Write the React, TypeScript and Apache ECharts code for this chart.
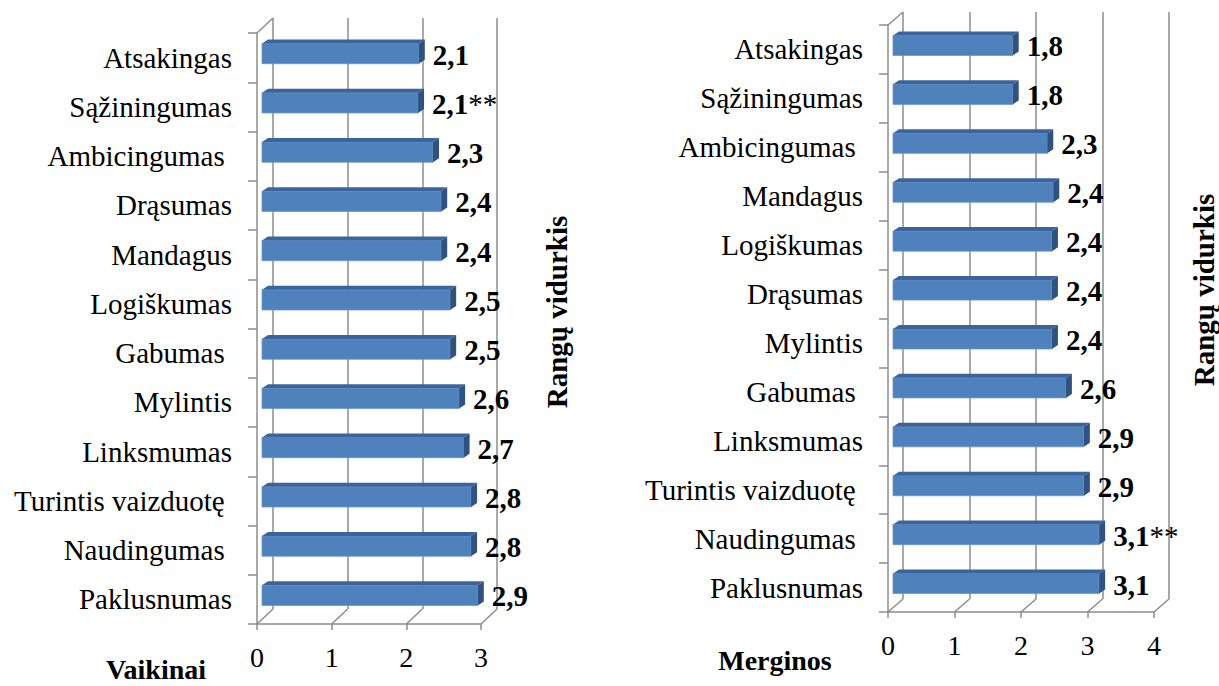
import { useEffect, useRef } from "react";
import * as echarts from "echarts";

// ---- Data ----
const boysCategories = [
  "Atsakingas",
  "Sąžiningumas",
  "Ambicingumas ",
  "Drąsumas",
  "Mandagus",
  "Logiškumas",
  "Gabumas ",
  "Mylintis",
  "Linksmumas",
  "Turintis vaizduotę ",
  "Naudingumas ",
  "Paklusnumas",
];
const boysValues = [2.1, 2.09, 2.29, 2.4, 2.4, 2.52, 2.52, 2.64, 2.7, 2.8, 2.8, 2.89];
const boysMarks = ["", "**", "", "", "", "", "", "", "", "", "", ""];
const boysTicks = [0, 1, 2, 3];

const girlsCategories = [
  "Atsakingas",
  "Sąžiningumas",
  "Ambicingumas ",
  "Mandagus",
  "Logiškumas",
  "Drąsumas",
  "Mylintis",
  "Gabumas ",
  "Linksmumas",
  "Turintis vaizduotę ",
  "Naudingumas ",
  "Paklusnumas",
];
const girlsValues = [1.8, 1.8, 2.32, 2.41, 2.39, 2.39, 2.39, 2.6, 2.87, 2.87, 3.1, 3.1];
const girlsMarks = ["", "", "", "", "", "", "", "", "", "", "**", ""];
const girlsTicks = [0, 1, 2, 3, 4];

const axisTitle = "Rangų vidurkis";
const boysTitle = "Vaikinai";
const girlsTitle = "Merginos";

// ---- Styles ----
const FONT = '"Liberation Serif", "Times New Roman", serif';
const GRID_COLOR = "#8c8c8c";
const FRONT = "#4f81bd";
const TOP = "#3b649d";
const SIDE = "#2f527f";

type Layout = {
  left: number;
  top: number;
  width: number;
  height: number;
  dx: number;
  dy: number;
  max: number;
};

const boysLayout: Layout = { left: 257, top: 33, width: 224, height: 591, dx: 16, dy: -15, max: 3 };
const girlsLayout: Layout = { left: 888, top: 25, width: 266, height: 587, dx: 15, dy: -13, max: 4 };

function fmt(v: number) {
  return v.toFixed(1).replace(".", ",");
}

function buildChart(
  idx: number,
  layout: Layout,
  categories: string[],
  values: number[],
  marks: string[],
  ticks: number[]
) {
  const fIdx = idx * 2;
  const bIdx = idx * 2 + 1;
  const grids = [
    { left: layout.left, top: layout.top, width: layout.width, height: layout.height },
    {
      left: layout.left + layout.dx,
      top: layout.top + layout.dy,
      width: layout.width,
      height: layout.height,
    },
  ];
  const xAxes = [
    {
      type: "value",
      gridIndex: fIdx,
      min: 0,
      max: layout.max,
      interval: 1,
      axisLine: { show: true, lineStyle: { color: GRID_COLOR, width: 1.5 } },
      axisTick: { show: true, length: 6, lineStyle: { color: GRID_COLOR, width: 1.5 } },
      splitLine: { show: false },
      axisLabel: { fontFamily: FONT, fontSize: 28, color: "#000", margin: 19 },
    },
    {
      type: "value",
      gridIndex: bIdx,
      min: 0,
      max: layout.max,
      interval: 1,
      axisLine: { show: false },
      axisTick: { show: false },
      axisLabel: { show: false },
      splitLine: { show: true, lineStyle: { color: GRID_COLOR, width: 1.5 } },
    },
  ];
  const yAxes = [
    {
      type: "category",
      gridIndex: fIdx,
      data: categories,
      inverse: true,
      axisLine: { show: true, lineStyle: { color: GRID_COLOR, width: 1.5 } },
      axisTick: { show: true, length: 9, lineStyle: { color: GRID_COLOR, width: 1.5 } },
      axisLabel: { fontFamily: FONT, fontSize: 29, color: "#000", margin: 25 },
      splitLine: { show: false },
    },
    {
      type: "category",
      gridIndex: bIdx,
      data: categories,
      inverse: true,
      show: false,
    },
  ];
  const bdx = 6;
  const bdy = -4;
  const ox = 5;
  const oy = -4;
  const series = [
    {
      type: "custom",
      xAxisIndex: fIdx,
      yAxisIndex: fIdx,
      clip: false,
      z: 3,
      data: ticks.map((t) => [t, 0]),
      renderItem: (params: any, api: any) => {
        const cs = params.coordSys;
        const v = api.value(0);
        const x = api.coord([v, 0])[0];
        const bottom = cs.y + cs.height;
        const style = { stroke: GRID_COLOR, lineWidth: 1.5 };
        const children: any[] = [
          { type: "line", shape: { x1: x, y1: bottom, x2: x + layout.dx, y2: bottom + layout.dy }, style },
        ];
        if (v === 0) {
          children.push({
            type: "line",
            shape: { x1: x, y1: cs.y, x2: x + layout.dx, y2: cs.y + layout.dy },
            style,
          });
        }
        return { type: "group", children };
      },
    },
    {
      type: "custom",
      xAxisIndex: fIdx,
      yAxisIndex: fIdx,
      clip: false,
      z: 5,
      data: values.map((v, i) => [v, i]),
      renderItem: (params: any, api: any) => {
        const v = api.value(0);
        const i = api.value(1);
        const start = api.coord([0, i]);
        const end = api.coord([v, i]);
        const band = api.size([0, 1])[1];
        const h = band * 0.41;
        const x0 = start[0] + ox;
        const x1 = end[0] + ox;
        const yc = start[1] + oy;
        const y0 = yc - h / 2;
        const y1 = yc + h / 2;
        const mark = marks[params.dataIndex];
        return {
          type: "group",
          children: [
            {
              type: "rect",
              shape: { x: x0, y: y0, width: x1 - x0, height: h },
              style: { fill: FRONT, stroke: "#6b95c8", lineWidth: 0.8 },
            },
            {
              type: "polygon",
              shape: { points: [[x0, y0], [x0 + bdx, y0 + bdy], [x1 + bdx, y0 + bdy], [x1, y0]] },
              style: { fill: TOP },
            },
            {
              type: "polygon",
              shape: { points: [[x1, y0], [x1 + bdx, y0 + bdy], [x1 + bdx, y1 + bdy], [x1, y1]] },
              style: { fill: SIDE },
            },
            {
              type: "text",
              style: {
                text: mark ? `{v|${fmt(v)}}{m|${mark}}` : `{v|${fmt(v)}}`,
                x: x1 + bdx + 8,
                y: yc + 1,
                verticalAlign: "middle",
                align: "left",
                rich: {
                  v: { fontFamily: FONT, fontSize: 29, fontWeight: "bold", fill: "#000", color: "#000" },
                  m: { fontFamily: FONT, fontSize: 29, fontWeight: "normal", fill: "#000", color: "#000" },
                },
              },
            },
          ],
        };
      },
    },
  ];
  return { grids, xAxes, yAxes, series };
}

export default function App() {
  const ref = useRef<HTMLDivElement>(null);
  useEffect(() => {
    if (!ref.current) return;
    const chart = echarts.init(ref.current, undefined, { renderer: "svg" });
    const a = buildChart(0, boysLayout, boysCategories, boysValues, boysMarks, boysTicks);
    const b = buildChart(1, girlsLayout, girlsCategories, girlsValues, girlsMarks, girlsTicks);
    const titleStyle = { fontFamily: FONT, fontSize: 28, fontWeight: "bold", fill: "#000" };
    chart.setOption({
      animation: false,
      backgroundColor: "#ffffff",
      grid: [...a.grids, ...b.grids],
      xAxis: [...a.xAxes, ...b.xAxes],
      yAxis: [...a.yAxes, ...b.yAxes],
      series: [...a.series, ...b.series],
      graphic: [
        {
          type: "text",
          x: 557,
          y: 312,
          rotation: Math.PI / 2,
          style: { ...titleStyle, fontSize: 29, text: axisTitle, align: "center", verticalAlign: "middle" },
        },
        {
          type: "text",
          x: 1204,
          y: 290,
          rotation: Math.PI / 2,
          style: { ...titleStyle, fontSize: 29, text: axisTitle, align: "center", verticalAlign: "middle" },
        },
        {
          type: "text",
          x: 156,
          y: 669,
          style: { ...titleStyle, text: boysTitle, align: "center", verticalAlign: "middle" },
        },
        {
          type: "text",
          x: 775,
          y: 660,
          style: { ...titleStyle, text: girlsTitle, align: "center", verticalAlign: "middle" },
        },
      ],
    });
    return () => chart.dispose();
  }, []);
  return (
    <div
      ref={ref}
      style={{ position: "fixed", left: 0, top: 0, width: 1219, height: 686, background: "#fff" }}
    />
  );
}
